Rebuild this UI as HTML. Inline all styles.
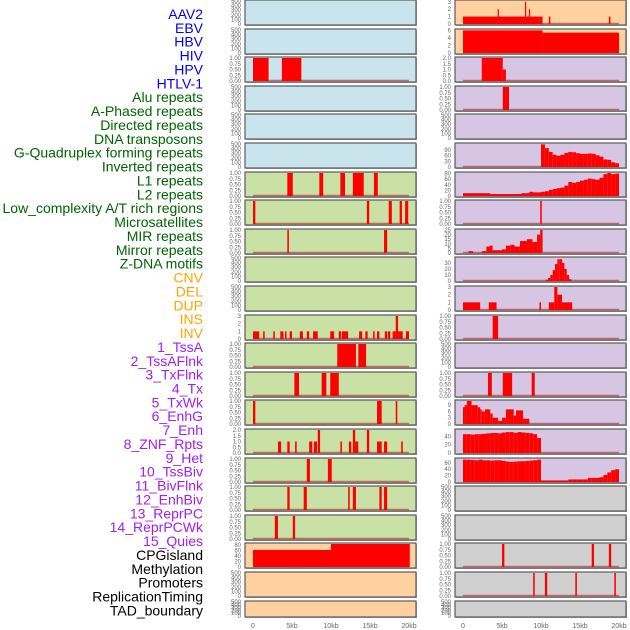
<!DOCTYPE html>
<html><head><meta charset="utf-8"><style>
html,body{margin:0;padding:0;background:#fff;}
svg{display:block;font-family:"Liberation Sans",sans-serif;}
</style></head><body>
<svg id="chart" width="630" height="630" viewBox="0 0 630 630" xmlns="http://www.w3.org/2000/svg"></svg>
<script>
// ---------- data ----------
const trackLabels = ["AAV2","EBV","HBV","HIV","HPV","HTLV-1","Alu repeats","A-Phased repeats","Directed repeats","DNA transposons","G-Quadruplex forming repeats","Inverted repeats","L1 repeats","L2 repeats","Low_complexity A/T rich regions","Microsatellites","MIR repeats","Mirror repeats","Z-DNA motifs","CNV","DEL","DUP","INS","INV","1_TssA","2_TssAFlnk","3_TxFlnk","4_Tx","5_TxWk","6_EnhG","7_Enh","8_ZNF_Rpts","9_Het","10_TssBiv","11_BivFlnk","12_EnhBiv","13_ReprPC","14_ReprPCWk","15_Quies","CPGisland","Methylation","Promoters","ReplicationTiming","TAD_boundary"];
const labelGroups = ["v","v","v","v","v","v","r","r","r","r","r","r","r","r","r","r","r","r","r","s","s","s","s","s","c","c","c","c","c","c","c","c","c","c","c","c","c","c","c","o","o","o","o","o"];
const xTickValues = [0,5,10,15,20];
const xTickLabels = ["0","5kb","10kb","15kb","20kb"];

// segments: [startKb, endKb, value]
const L3 = [[0,2,1],[3.7,6.2,1]];
const L7 = [[4.4,5.1,1],[8.5,9.0,1],[11.2,11.8,1],[12.8,14.2,1],[15.5,16.0,1]];
const L8 = [[0,0.3,1],[14.6,14.9,1],[17.4,17.8,1],[18.8,19.1,1],[19.5,19.9,1]];
const L9 = [[4.4,4.6,1],[16.8,17.2,1]];
const L12 = [[0,0.8,1],[1.3,1.5,1],[2.6,2.8,1],[3.5,3.9,1],[4.1,4.3,1],[4.7,5.0,1],[6.0,6.4,1],[6.9,7.2,1],[7.7,8.3,1],[9.9,10.4,1],[11.0,11.3,1],[11.4,12.2,1],[13.6,14.0,1],[14.4,14.7,1],[15.4,15.6,1],[15.9,16.2,1],[16.9,17.2,1],[17.3,17.6,1],[17.9,18.3,1],[18.3,18.6,3],[18.6,19.2,1],[19.6,20.0,1]];
const L13 = [[10.8,13.2,1],[13.5,14.5,1]];
const L14 = [[5.3,5.9,1],[8.8,9.4,1],[9.9,11.0,1]];
const L15 = [[0,0.3,1],[15.9,16.5,1],[18.3,18.5,1]];
const L16 = [[3.2,3.6,1],[4.4,4.7,1],[5.4,5.6,1],[7.2,7.6,1],[7.8,8.2,1],[8.3,8.6,2],[11.2,11.4,1],[12.3,12.6,1],[12.8,13.1,2],[13.1,13.5,1],[14.6,14.9,2],[15.9,16.5,1],[16.8,17.2,1],[19.0,19.2,1]];
const L17 = [[6.9,7.3,1],[9.6,10.1,1]];
const L18 = [[4.4,4.7,1],[6.5,6.9,1],[12.2,12.4,1],[12.8,13.2,1],[16.2,16.5,1],[16.8,17.2,1]];
const L19 = [[2.8,3.2,1],[5.1,5.4,1]];
const L20 = [[0,10,62],[10,20.1,85]];

const R1 = [[0,10.2,1],[4.45,4.6,2],[7.95,8.1,3],[8.45,8.6,2],[11.0,11.2,1],[18.7,18.9,1]];
const R2 = [[0,10.2,6],[10.2,20,5.4]];
const R3 = [[2.4,5.1,2],[5.1,5.5,1]];
const R4 = [[5.1,5.9,1]];
const R6vals = [120,100,80,65,60,65,75,80,78,73,70,70,72,70,62,55,40,38,25,20];
const R7head = [[0,3.5,10],[3.5,7.5,7]];
const R7vals = [10,10,15,13,13,15,17,22,25,28,30,37,50,47,50,55,58,62,60,58,65,78,82,78,80];
const R8 = [[9.9,10.1,1]];
const R9 = [[0.7,1.3,2],[2.4,3.0,2],[3.0,3.4,7],[3.4,3.8,8],[3.8,5.0,3],[5.0,5.5,4],[5.5,6.1,8],[6.1,6.6,9],[6.6,7.3,7],[7.3,8.2,13],[8.2,8.9,15],[8.9,9.5,12],[9.5,9.9,20],[9.9,10.2,25]];
const R10vals = [2,5,10,18,28,36,36,30,20,10,3];
const R11 = [[0,2.2,1],[3.3,4.3,1],[9.8,10.0,1],[11.0,11.7,1],[11.7,12.1,3],[12.1,12.7,2],[12.7,14.0,1]];
const R12 = [[3.8,4.5,1]];
const R14 = [[3.2,3.7,1],[5.1,6.3,1],[8.8,9.2,1]];
const R15 = [[0,0.2,8],[0.2,0.5,9],[0.5,1.1,11],[1.1,1.9,9],[1.9,2.2,8],[2.2,2.4,7],[2.4,2.8,6],[2.8,3.5,7],[3.5,3.8,5],[3.8,4.5,3],[4.5,5.0,1.5],[5.0,5.5,3],[5.5,6.5,7],[6.5,6.8,4],[6.8,7.7,6.5],[7.7,8.5,2.5]];
const R16vals = [45,45,44,45,45,46,47,48,48,47,49,50,50,48,50,49,48,47,45,36];
const R17vals = [70,70,69,68,70,68,68,67,68,68,66,64,63,64,65,65,66,67,68,70,5,5,5,5,5,5,5,8,8,8,8,8,13,13,13,15,22,30,37,40];
const R20 = [[5.0,5.3,1],[16.5,16.8,1],[18.7,19.0,1]];
const R21 = [[9.0,9.2,1],[10.5,10.8,1],[14.4,14.6,1],[19.4,19.6,1]];

// ---------- helpers ----------
function bins(start, width, vals){ return vals.map((v,i)=>[start+i*width, start+(i+1)*width, v]); }
const T500 = {t:["500","400","300","200","100","0"], v:[500,400,300,200,100,0], max:500};
const T1 = {t:["1.00","0.75","0.50","0.25","0.00"], v:[1,0.75,0.5,0.25,0], max:1};
const T3 = {t:["3","2","1","0"], v:[3,2,1,0], max:3};
const T2 = {t:["2.0","1.5","1.0","0.5","0.0"], v:[2,1.5,1,0.5,0], max:2};
const BG = {b:"#c9e4ec", g:"#c9e1a5", o:"#ffd1a0", p:"#d6c6e3", k:"#d0d0d0"};

const leftTracks = [
 {bg:"b",ax:T500,d:null},{bg:"b",ax:T500,d:null},{bg:"b",ax:T1,d:L3},{bg:"b",ax:T500,d:null},{bg:"b",ax:T500,d:null},{bg:"b",ax:T500,d:null},
 {bg:"g",ax:T1,d:L7},{bg:"g",ax:T1,d:L8},{bg:"g",ax:T1,d:L9},{bg:"g",ax:T500,d:null},{bg:"g",ax:T500,d:null},
 {bg:"g",ax:T3,d:L12},{bg:"g",ax:T1,d:L13},{bg:"g",ax:T1,d:L14},{bg:"g",ax:T1,d:L15},{bg:"g",ax:T2,d:L16},
 {bg:"g",ax:T1,d:L17},{bg:"g",ax:T1,d:L18},{bg:"g",ax:T1,d:L19},
 {bg:"o",ax:{t:["80","60","40","20","0"],v:[80,60,40,20,0],max:84},d:L20},{bg:"o",ax:T500,d:null},{bg:"o",ax:T500,d:null}
];
const rightTracks = [
 {bg:"o",ax:{t:["3","2","1","0"],v:[3,2,1,0],max:3.1},d:R1},
 {bg:"o",ax:{t:["6","4","2","0"],v:[6,4,2,0],max:6.1},d:R2},
 {bg:"p",ax:T2,d:R3},{bg:"p",ax:T1,d:R4},{bg:"p",ax:T500,d:null},
 {bg:"p",ax:{t:["90","60","30","0"],v:[90,60,30,0],max:122},d:bins(10,0.5,R6vals)},
 {bg:"p",ax:{t:["80","60","40","20","0"],v:[80,60,40,20,0],max:82},d:R7head.concat(bins(7.5,0.5,R7vals))},
 {bg:"p",ax:T1,d:R8},
 {bg:"p",ax:{t:["25","20","15","10","5","0"],v:[25,20,15,10,5,0],max:25},d:R9},
 {bg:"p",ax:{t:["30","20","10","0"],v:[30,20,10,0],max:38},d:bins(10.6,0.3,R10vals)},
 {bg:"p",ax:T3,d:R11},{bg:"p",ax:T1,d:R12},{bg:"p",ax:T500,d:null},{bg:"p",ax:T1,d:R14},
 {bg:"p",ax:{t:["9","6","3","0"],v:[9,6,3,0],max:11},d:R15},
 {bg:"p",ax:{t:["40","20","0"],v:[40,20,0],max:55},d:bins(0,0.5,R16vals)},
 {bg:"p",ax:{t:["60","40","20","0"],v:[60,40,20,0],max:72},d:bins(0,0.5,R17vals)},
 {bg:"k",ax:T500,d:null},{bg:"k",ax:T500,d:null},{bg:"k",ax:T1,d:R20},{bg:"k",ax:T1,d:R21},{bg:"k",ax:T500,d:null}
];

// ---------- drawing ----------
const NS = "http://www.w3.org/2000/svg";
const svg = document.getElementById("chart");
function mk(tag, attrs, parent){ const e=document.createElementNS(NS,tag); for(const k in attrs) e.setAttribute(k,attrs[k]); (parent||svg).appendChild(e); return e; }

const labelColors = {v:"#0000ee", r:"#006400", s:"#ffa500", c:"#a020f0", o:"#000000"};
trackLabels.forEach((name,i)=>{
  const t = mk("text",{x:203,y:14+i*13.87+5,"text-anchor":"end","font-size":"14",fill:labelColors[labelGroups[i]]});
  
  
  t.textContent = name;
});

function rowTop(i){ return Math.round(i*28.6); }
function drawColumn(tracks, px, colName){
  const pw = 171;
  const x0 = px + 8, x1 = px + 164; // 0kb and 20kb
  const xs = kb => x0 + (x1-x0)*kb/20;
  tracks.forEach((tr,i)=>{
    const top = rowTop(i);
    const h = (i===tracks.length-1) ? 16 : 25;
    const g = mk("g",{});
    
    
    mk("rect",{x:px+1,y:top+1,width:pw,height:h,fill:"#aaa"},g);
    mk("rect",{x:px,y:top,width:pw,height:h,fill:BG[tr.bg],stroke:"#5a5a5a","stroke-width":1.2},g);
    const yb = top + h - 1, ytop = top + 1;
    const ys = v => yb - (yb-ytop)*Math.min(v,tr.ax.max)/tr.ax.max;
    tr.ax.t.forEach((lab,j)=>{
      const tt = mk("text",{x:px-4,y:ys(tr.ax.v[j])+2,"text-anchor":"end","font-size":"6",fill:"#666"},g);
      
      
      tt.textContent = lab;
    });
    if(tr.d){
      const bl = mk("line",{x1:xs(0),x2:xs(20),y1:yb-0.5,y2:yb-0.5,stroke:"rgba(190,60,60,0.7)","stroke-width":1.6},g);
      
      
      tr.d.forEach(s=>{
        const xa = xs(s[0]), xb = Math.max(xs(s[1]), xa+1.2);
        const r = mk("rect",{x:xa,y:ys(s[2]),width:xb-xa,height:yb-ys(s[2]),fill:"#ff0000"},g);
        
        
      });
    }
  });
  xTickValues.forEach((v,j)=>{
    const t = mk("text",{x:xs(v),y:628,"text-anchor":"middle","font-size":"7",fill:"#666"});
    
    
    t.textContent = xTickLabels[j];
  });
}
drawColumn(leftTracks, 245, "left");
drawColumn(rightTracks, 455, "right");
</script>
</body></html>
